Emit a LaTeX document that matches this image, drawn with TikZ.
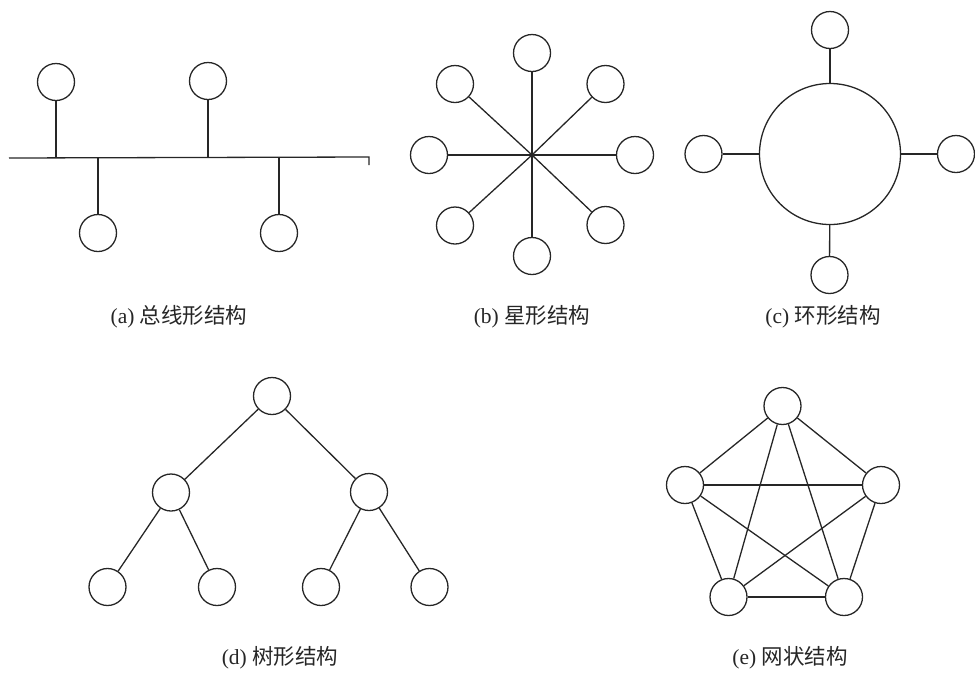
\documentclass[tikz,border=0pt]{standalone}
\usepackage{fontspec}
\setmainfont{Liberation Serif}
\newfontfamily\cjk{Noto Sans CJK SC}
\begin{document}
\begin{tikzpicture}[x=1pt,y=-1pt,
  ln/.style={draw=black!85,line width=1.3pt},
  nd/.style={circle,draw=black!85,line width=1.3pt,minimum size=37pt,inner sep=0pt},
  ring/.style={circle,draw=black!85,line width=1.3pt,minimum size=141pt,inner sep=0pt},
  lbl/.style={text=black!85,font=\fontsize{21.5pt}{24pt}\selectfont,inner sep=0pt,anchor=center}]
\useasboundingbox (0,0) rectangle (975,673);
% (a) bus
\node[nd] (a1) at (56,82) {};
\node[nd] (a2) at (208,81) {};
\node[nd] (a3) at (98,233) {};
\node[nd] (a4) at (279,233) {};
\coordinate (bl) at (9,158);
\coordinate (br) at (369,157);
\coordinate (bt) at (369,165);
\coordinate (b1) at (56,158);
\coordinate (b2) at (208,157.5);
\coordinate (b3) at (98,158);
\coordinate (b4) at (279,157.3);
\draw[ln] (bl) -- (br) -- (bt);
\draw[ln] (a1) -- (b1);
\draw[ln] (a2) -- (b2);
\draw[ln] (b3) -- (a3);
\draw[ln] (b4) -- (a4);
\node[lbl] (la) at (179,317) {(a) {\cjk 总线形结构}};
% (b) star
\coordinate (sc) at (532,155);
\node[nd] (s1) at (532,53) {};
\node[nd] (s2) at (605.5,84) {};
\node[nd] (s3) at (635,155) {};
\node[nd] (s4) at (605.5,225) {};
\node[nd] (s5) at (532,256) {};
\node[nd] (s6) at (455,225.5) {};
\node[nd] (s7) at (429,155) {};
\node[nd] (s8) at (455,84) {};
\foreach \i in {1,...,8} {\draw[ln] (sc) -- (s\i);}
\node[lbl] (lb) at (532,317) {(b) {\cjk 星形结构}};
% (c) ring
\node[ring] (rc) at (830,154) {};
\node[nd] (r1) at (830,30) {};
\node[nd] (r2) at (956,154) {};
\node[nd] (r3) at (829.5,275) {};
\node[nd] (r4) at (703.5,154) {};
\foreach \i in {1,...,4} {\draw[ln] (rc) -- (r\i);}
\node[lbl] (lc) at (823,317) {(c) {\cjk 环形结构}};
% (d) tree
\node[nd] (t0) at (272,396) {};
\node[nd] (t1) at (171,492.5) {};
\node[nd] (t2) at (369,492) {};
\node[nd] (t3) at (107.5,587) {};
\node[nd] (t4) at (217,587) {};
\node[nd] (t5) at (321,587) {};
\node[nd] (t6) at (429.5,587) {};
\draw[ln] (t0) -- (t1);
\draw[ln] (t0) -- (t2);
\draw[ln] (t1) -- (t3);
\draw[ln] (t1) -- (t4);
\draw[ln] (t2) -- (t5);
\draw[ln] (t2) -- (t6);
\node[lbl] (ld) at (280,658) {(d) {\cjk 树形结构}};
% (e) mesh
\node[nd] (m1) at (782.5,406) {};
\node[nd] (m2) at (881,485) {};
\node[nd] (m3) at (844,597) {};
\node[nd] (m4) at (728.5,597) {};
\node[nd] (m5) at (685,485) {};
\foreach \i/\j in {1/2,1/3,1/4,1/5,2/3,2/4,2/5,3/4,3/5,4/5} {\draw[ln] (m\i) -- (m\j);}
\node[lbl] (le) at (790,658) {(e) {\cjk 网状结构}};
\end{tikzpicture}
\end{document}
